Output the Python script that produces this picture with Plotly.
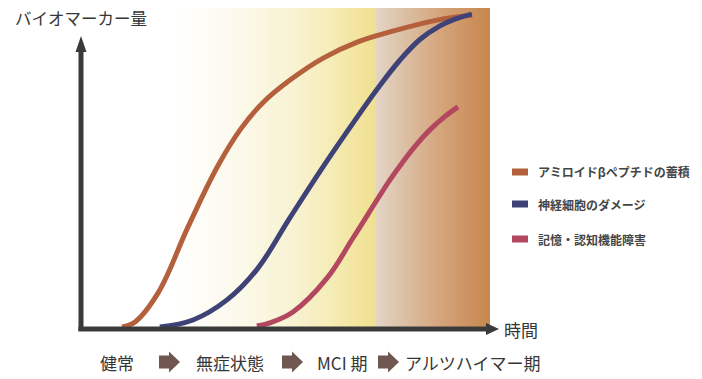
import plotly.graph_objects as go
import numpy as np

W, H = 702, 379

# ---------------- data ----------------
series_names = ["アミロイドβペプチドの蓄積", "神経細胞のダメージ", "記憶・認知機能障害"]
series_colors = ["#b4603c", "#3f4276", "#b3475f"]

amyloid_t = [10.0, 13.1, 18.6, 25.7, 32.9, 38.5, 43.6, 50.0, 57.9, 66.0, 73.8, 85.0, 93.3]
amyloid_v = [0.0, 1.6, 10.7, 31.3, 50.7, 62.5, 70.4, 77.4, 84.3, 89.3, 92.5, 96.2, 97.8]

neuron_t = [19.0, 26.9, 35.0, 42.1, 50.0, 57.9, 66.0, 71.0, 76.2, 81.0, 85.7, 88.8, 93.3]
neuron_v = [0.0, 2.2, 8.5, 18.0, 34.3, 50.3, 65.8, 75.0, 83.7, 90.2, 94.4, 96.3, 98.1]

memory_t = [42.1, 45.2, 50.7, 58.8, 65.0, 73.8, 76.9, 80.0, 83.3, 86.7, 90.0]
memory_v = [0.3, 1.3, 4.7, 15.3, 27.9, 46.1, 51.8, 57.0, 61.8, 65.8, 69.0]

y_title = "バイオマーカー量"
x_title = "時間"
stages = ["健常", "無症状態", "MCI 期", "アルツハイマー期"]

# background stage gradient (time position -> colour)
grad_pos = [0.0, 21.4, 35.7, 50.0, 59.5, 66.7, 70.5, 70.5, 76.2, 85.7, 92.9, 97.6]
grad_col = ["#ffffff", "#ffffff", "#fcfaee", "#f8f3d4", "#f5ecb8", "#f2e49c", "#efe090",
            "#e4d5c6", "#dcc3aa", "#d5a57c", "#cd915f", "#c8874f"]

# ---------------- helpers ----------------
def px(x):
    return x / W

def py(y):
    return 1 - y / H

X0, X1 = 80, 500      # pixel span of x axis range [0,100]
Y0, Y1 = 327, 8       # pixel span of y axis range [0,100]

fig = go.Figure()

# gradient background as a heatmap
edges = np.linspace(0, grad_pos[-1], 411)
centers = (edges[:-1] + edges[1:]) / 2
gmax = grad_pos[-1]
cscale = [[p / gmax, c] for p, c in zip(grad_pos, grad_col)]
fig.add_trace(go.Heatmap(
    x=edges, y=[0, 100], z=[centers.tolist()],
    colorscale=cscale, zmin=0, zmax=gmax, showscale=False,
    hoverinfo="skip", zsmooth=False,
))

for name, t, v, col in zip(series_names,
                           [amyloid_t, neuron_t, memory_t],
                           [amyloid_v, neuron_v, memory_v],
                           series_colors):
    fig.add_trace(go.Scatter(
        x=t, y=v, mode="lines", name=name,
        line=dict(color=col, width=5, shape="spline", smoothing=1.1),
        showlegend=False, hoverinfo="skip",
    ))

shapes = []
axis_col = "#3a3a3a"
# y axis with arrow
shapes.append(dict(type="line", xref="paper", yref="paper",
                   x0=px(81), x1=px(81), y0=py(331), y1=py(50),
                   line=dict(color=axis_col, width=5)))
shapes.append(dict(type="path", xref="paper", yref="paper",
                   path=f"M {px(75.5)} {py(52)} L {px(86.5)} {py(52)} L {px(81)} {py(36)} Z",
                   fillcolor=axis_col, line=dict(width=0)))
# x axis with arrow
shapes.append(dict(type="line", xref="paper", yref="paper",
                   x0=px(78.5), x1=px(488), y0=py(329), y1=py(329),
                   line=dict(color=axis_col, width=5)))
shapes.append(dict(type="path", xref="paper", yref="paper",
                   path=f"M {px(486)} {py(323)} L {px(486)} {py(335)} L {px(499)} {py(329)} Z",
                   fillcolor=axis_col, line=dict(width=0)))

# stage block arrows
arrow_col = "#6f5651"
for ax0 in [159, 282, 378]:
    cy = 362
    p = (f"M {px(ax0)} {py(cy-6.5)} L {px(ax0+10)} {py(cy-6.5)} L {px(ax0+10)} {py(cy-10.5)} "
         f"L {px(ax0+21)} {py(cy)} L {px(ax0+10)} {py(cy+10.5)} L {px(ax0+10)} {py(cy+6.5)} "
         f"L {px(ax0)} {py(cy+6.5)} Z")
    shapes.append(dict(type="path", xref="paper", yref="paper", path=p,
                       fillcolor=arrow_col, line=dict(width=0)))

# legend swatches
legend_rows = [172, 204, 239]
for ry, col in zip(legend_rows, series_colors):
    shapes.append(dict(type="rect", xref="paper", yref="paper",
                       x0=px(512), x1=px(528), y0=py(ry+3.5), y1=py(ry-3.5),
                       fillcolor=col, line=dict(width=0)))

font_family = "Noto Sans CJK JP"
txt_col = "#363636"
ann = []
ann.append(dict(text=y_title, x=px(13), y=py(18), xref="paper", yref="paper",
                xanchor="left", yanchor="middle", showarrow=False,
                font=dict(size=16.5, color=txt_col, family=font_family)))
ann.append(dict(text=x_title, x=px(502), y=py(329), xref="paper", yref="paper",
                xanchor="left", yanchor="middle", showarrow=False,
                font=dict(size=17, color=txt_col, family=font_family)))
for s, cx in zip(stages, [117, 230, 342, 473]):
    ann.append(dict(text=s, x=px(cx), y=py(362), xref="paper", yref="paper",
                    xanchor="center", yanchor="middle", showarrow=False,
                    font=dict(size=17, color=txt_col, family=font_family)))
for name, ry in zip(series_names, legend_rows):
    ann.append(dict(text=name, x=px(536), y=py(ry), xref="paper", yref="paper",
                    xanchor="left", yanchor="middle", showarrow=False,
                    font=dict(size=12, color="#454545", family=font_family, weight="bold")))

fig.update_layout(
    width=W, height=H,
    margin=dict(l=0, r=0, t=0, b=0),
    paper_bgcolor="white", plot_bgcolor="rgba(0,0,0,0)",
    xaxis=dict(range=[0, 100], domain=[px(X0), px(X1)], visible=False, fixedrange=True),
    yaxis=dict(range=[0, 100], domain=[py(Y0), py(Y1)], visible=False, fixedrange=True),
    shapes=shapes, annotations=ann,
)

fig.write_html("out.html")
